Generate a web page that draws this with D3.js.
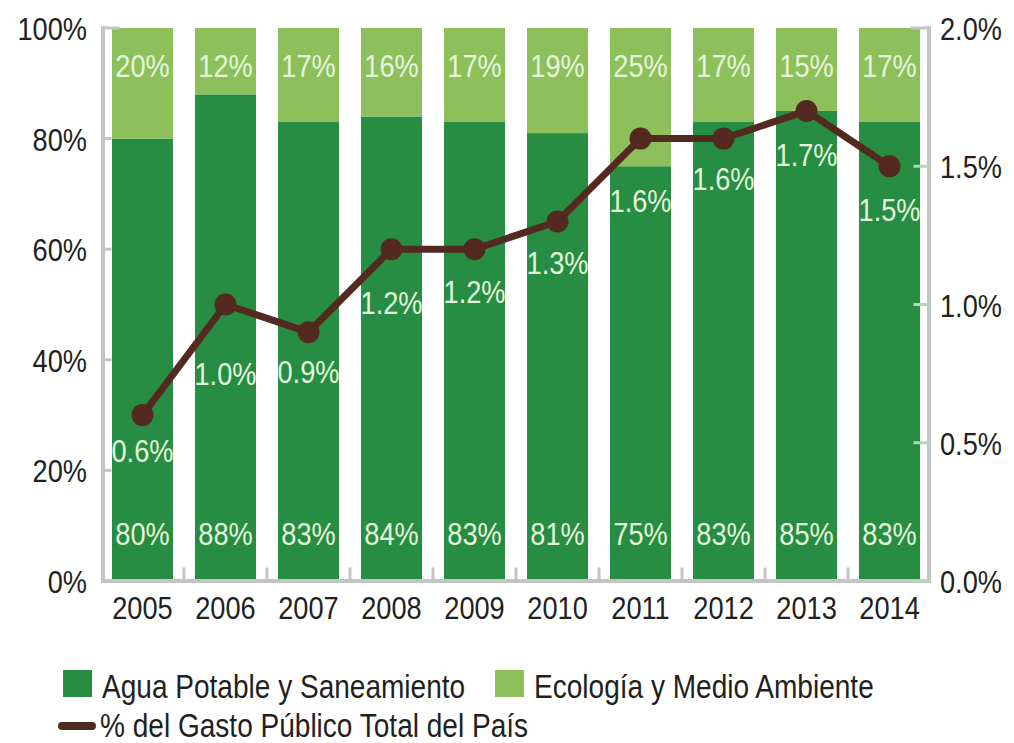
<!DOCTYPE html>
<html>
<head>
<meta charset="utf-8">
<script src="https://cdn.jsdelivr.net/npm/d3@7"></script>
<style>
	body { margin: 0; background: #fff; }
	svg text { font-family: "Liberation Sans", Arial, sans-serif; }
</style>
</head>
<body>
<svg width="1014" height="743"></svg>
<script>
// values
var years = ['2005','2006','2007','2008','2009','2010','2011','2012','2013','2014']
var agua = [80, 88, 83, 84, 83, 81, 75, 83, 85, 83]		// Agua Potable y Saneamiento
var ecologia = [20, 12, 17, 16, 17, 19, 25, 17, 15, 17]	// Ecologia y Medio Ambiente
var gasto = [0.6, 1.0, 0.9, 1.2, 1.2, 1.3, 1.6, 1.6, 1.7, 1.5]	// % del gasto publico
var leftTicks = [0, 20, 40, 60, 80, 100]
var rightTicks = [0, 0.5, 1.0, 1.5, 2.0]

// how far below each marker its label sits (layout only)
var gastoLabelDy = [47, 80, 51, 65, 54, 52, 73, 51, 55, 55]

var darkGreen = '#268d42'
var lightGreen = '#8dc05b'
var lineColor = '#54291f'
var labelColor = '#e4f6dc'
var axisGray = '#c4c4c4'
var narrow = 0.85		// no condensed font installed, so squeeze the text

var svg = d3.select('svg')

// place a text at (x,y) and squeeze it horizontally
function at(x, y) {
	return 'translate(' + x + ',' + y + ') scale(' + narrow + ',1)'
}

var x = d3.scaleBand().domain(years).range([103, 929]).paddingInner(0.265).paddingOuter(0.108)
var yL = d3.scaleLinear().domain([0, 100]).range([581, 28])
var yR = d3.scaleLinear().domain([0, 2]).range([581, 28])
function cx(d) { return x(d) + x.bandwidth() / 2 }

// bars
var rows = years.map(function(yr, i) { return {year: yr, agua: agua[i], eco: ecologia[i], gasto: gasto[i], dy: gastoLabelDy[i]} })

var bars = svg.append('g')
bars.selectAll('rect.agua')
	.data(rows).enter().append('rect')
		.attr('class', 'agua')
		.attr('x', function(d) { return x(d.year) })
		.attr('width', x.bandwidth())
		.attr('y', function(d) { return yL(d.agua) })
		.attr('height', function(d) { return yL(0) - yL(d.agua) })
		.attr('fill', darkGreen)
bars.selectAll('rect.eco')
	.data(rows).enter().append('rect')
		.attr('class', 'eco')
		.attr('x', function(d) { return x(d.year) })
		.attr('width', x.bandwidth())
		.attr('y', function(d) { return yL(d.agua + d.eco) })
		.attr('height', function(d) { return yL(d.agua) - yL(d.agua + d.eco) })
		.attr('fill', lightGreen)

// bar labels
var barLabels = svg.append('g')
	.attr('fill', labelColor)
	.attr('font-size', 32)
	.attr('text-anchor', 'middle')
barLabels.selectAll('text.top')
	.data(rows).enter().append('text')
		.attr('transform', function(d) { return at(cx(d.year), yL(100) + 49) })
		.text(function(d) { return d.eco + '%' })
barLabels.selectAll('text.bottom')
	.data(rows).enter().append('text')
		.attr('transform', function(d) { return at(cx(d.year), yL(0) - 36) })
		.text(function(d) { return d.agua + '%' })

// axes
var axes = svg.append('g').attr('stroke-linecap', 'square')
axes.append('line')
	.attr('x1', 103).attr('x2', 103).attr('y1', yL(100)).attr('y2', yL(0))
	.attr('stroke', axisGray).attr('stroke-width', 4)
axes.append('line')
	.attr('x1', 929).attr('x2', 929).attr('y1', yR(2)).attr('y2', yR(0))
	.attr('stroke', axisGray).attr('stroke-width', 4)
axes.append('line')
	.attr('x1', 103).attr('x2', 929).attr('y1', yL(0)).attr('y2', yL(0))
	.attr('stroke', axisGray).attr('stroke-width', 4)

axes.selectAll('line.lt')
	.data(leftTicks).enter().append('line')
		.attr('x1', 103).attr('x2', function(d) { return d == 100 ? 118 : 110 })
		.attr('y1', function(d) { return yL(d) }).attr('y2', function(d) { return yL(d) })
		.attr('stroke', axisGray).attr('stroke-width', 3)
axes.selectAll('line.rt')
	.data(rightTicks).enter().append('line')
		.attr('x1', 929).attr('x2', function(d) { return d == 2 ? 912 : 915 })
		.attr('y1', function(d) { return yR(d) }).attr('y2', function(d) { return yR(d) })
		.attr('stroke', function(d) { return d == 2 ? axisGray : '#b9d6b3' }).attr('stroke-width', 3)
axes.selectAll('line.xt')
	.data(years.slice(1)).enter().append('line')
		.attr('x1', function(d) { return x(d) - x.step() * x.paddingInner() / 2 })
		.attr('x2', function(d) { return x(d) - x.step() * x.paddingInner() / 2 })
		.attr('y1', yL(0)).attr('y2', yL(0) - 12)
		.attr('stroke', axisGray).attr('stroke-width', 3)

var tickText = svg.append('g').attr('fill', '#231f20').attr('font-size', 32)
tickText.selectAll('text.l')
	.data(leftTicks).enter().append('text')
		.attr('transform', function(d) { return at(87, yL(d) + 12) })
		.attr('text-anchor', 'end')
		.text(function(d) { return d + '%' })
tickText.selectAll('text.r')
	.data(rightTicks).enter().append('text')
		.attr('transform', function(d) { return at(940, yR(d) + 12) })
		.text(function(d) { return d3.format('.1f')(d) + '%' })
tickText.selectAll('text.x')
	.data(years).enter().append('text')
		.attr('transform', function(d) { return at(cx(d), 619) })
		.attr('text-anchor', 'middle')
		.text(function(d) { return d })

// line
var line = d3.line()
	.x(function(d) { return cx(d.year) })
	.y(function(d) { return yR(d.gasto) })
svg.append('path')
	.datum(rows)
	.attr('d', line)
	.attr('fill', 'none')
	.attr('stroke', lineColor)
	.attr('stroke-width', 7)
svg.append('g').selectAll('circle')
	.data(rows).enter().append('circle')
		.attr('cx', function(d) { return cx(d.year) })
		.attr('cy', function(d) { return yR(d.gasto) })
		.attr('r', 11)
		.attr('fill', lineColor)
svg.append('g')
	.attr('fill', labelColor)
	.attr('font-size', 32)
	.attr('text-anchor', 'middle')
	.selectAll('text')
	.data(rows).enter().append('text')
		.attr('transform', function(d) { return at(cx(d.year), yR(d.gasto) + d.dy) })
		.text(function(d) { return d3.format('.1f')(d.gasto) + '%' })

// legend
var legend = svg.append('g').attr('fill', '#231f20').attr('font-size', 33)
legend.append('rect').attr('x', 63).attr('y', 670).attr('width', 29).attr('height', 27).attr('fill', darkGreen)
legend.append('text').attr('transform', at(102, 698)).text('Agua Potable y Saneamiento')
legend.append('rect').attr('x', 495).attr('y', 670).attr('width', 29).attr('height', 27).attr('fill', lightGreen)
legend.append('text').attr('transform', at(534, 698)).text('Ecología y Medio Ambiente')
legend.append('line').attr('x1', 62).attr('x2', 92).attr('y1', 726).attr('y2', 726)
	.attr('stroke', '#4a2d1f').attr('stroke-width', 8).attr('stroke-linecap', 'round')
legend.append('text').attr('transform', at(100, 737)).text('% del Gasto Público Total del País')
</script>
</body>
</html>
